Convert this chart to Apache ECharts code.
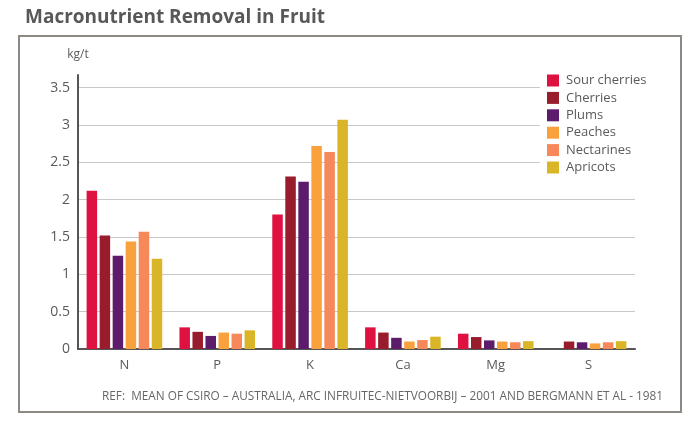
<!DOCTYPE html>
<html>
<head>
<meta charset="utf-8">
<script src="https://cdn.jsdelivr.net/npm/echarts@6/dist/echarts.min.js"></script>
<style>
  html, body { margin: 0; padding: 0; background: #fff; }
  #chart { width: 700px; height: 432px; }
</style>
</head>
<body>
<div id="chart"></div>
<script>
const nutrients = ['N', 'P', 'K', 'Ca', 'Mg', 'S'];
const fruits = ['Sour cherries', 'Cherries', 'Plums', 'Peaches', 'Nectarines', 'Apricots'];
const colors = ['#de1140', '#991c2c', '#5c1b6b', '#f9a13d', '#f7885a', '#dbb528'];

// kg/t, one array per fruit in nutrient order
const sourCherries = [2.12, 0.29, 1.80, 0.29, 0.205, null];
const cherries     = [1.52, 0.23, 2.31, 0.22, 0.16, 0.10];
const plums        = [1.25, 0.175, 2.24, 0.15, 0.115, 0.09];
const peaches      = [1.44, 0.22, 2.72, 0.10, 0.10, 0.075];
const nectarines   = [1.57, 0.205, 2.64, 0.12, 0.09, 0.09];
const apricots     = [1.21, 0.25, 3.07, 0.165, 0.105, 0.105];
const seriesValues = [sourCherries, cherries, plums, peaches, nectarines, apricots];

const yTicks = [0, 0.5, 1, 1.5, 2, 2.5, 3, 3.5];

const font = "'Open Sans', sans-serif";
const textGray = '#5a5a5a';

const chart = echarts.init(document.getElementById('chart'), null, { renderer: 'canvas' });

chart.setOption({
  backgroundColor: '#fff',
  animation: false,
  title: {
    text: 'Macronutrient Removal in Fruit',
    left: 20,
    top: 3,
    textStyle: {
      fontFamily: font,
      fontSize: 19,
      fontWeight: 'bold',
      color: '#585858',
    },
  },
  graphic: [
    {
      type: 'rect',
      shape: { x: 19, y: 36, width: 662, height: 376 },
      style: { fill: 'none', stroke: '#8c8884', lineWidth: 2 },
      z: -1,
    },
    {
      type: 'text',
      left: 102,
      top: 391,
      style: {
        text: 'REF:  MEAN OF CSIRO – AUSTRALIA, ARC INFRUITEC-NIETVOORBIJ – 2001 AND BERGMANN ET AL - 1981',
        fontFamily: font,
        fontSize: 11.8,
        fill: '#666',
      },
    },
  ],
  legend: {
    orient: 'vertical',
    left: 540,
    top: 68,
    padding: [6, 20, 5, 7],
    backgroundColor: '#fff',
    itemWidth: 12,
    itemHeight: 12,
    itemGap: 4.4,
    icon: 'rect',
    data: fruits,
    textStyle: { fontFamily: font, fontSize: 13, lineHeight: 12, color: textGray, padding: [0, 0, 0, 2] },
  },
  grid: {
    left: 78,
    right: 65,
    top: 75,
    bottom: 83,
  },
  xAxis: {
    type: 'category',
    data: nutrients,
    axisLine: { lineStyle: { color: '#555', width: 2 } },
    axisTick: { show: false },
    axisLabel: { fontFamily: font, fontSize: 13, color: textGray, margin: 10 },
  },
  yAxis: {
    type: 'value',
    min: yTicks[0],
    max: 3.67,
    interval: 0.5,
    name: 'kg/t',
    nameLocation: 'end',
    nameGap: 14,
    nameTextStyle: { fontFamily: font, fontSize: 12, color: textGray, align: 'center' },
    axisLine: { show: true, lineStyle: { color: '#555', width: 2 } },
    axisTick: { show: false },
    axisLabel: {
      fontFamily: font,
      fontSize: 14,
      color: textGray,
      margin: 8,
      showMaxLabel: false,
      formatter: v => (yTicks.includes(v) ? String(v) : ''),
    },
    splitLine: { showMaxLine: false, lineStyle: { color: '#c8c8c8', width: 1.2 } },
  },
  series: fruits.map((name, i) => ({
    name: name,
    type: 'bar',
    data: seriesValues[i],
    barWidth: 10.5,
    barGap: '24%',
    itemStyle: { color: colors[i] },
  })),
});
</script>
</body>
</html>
